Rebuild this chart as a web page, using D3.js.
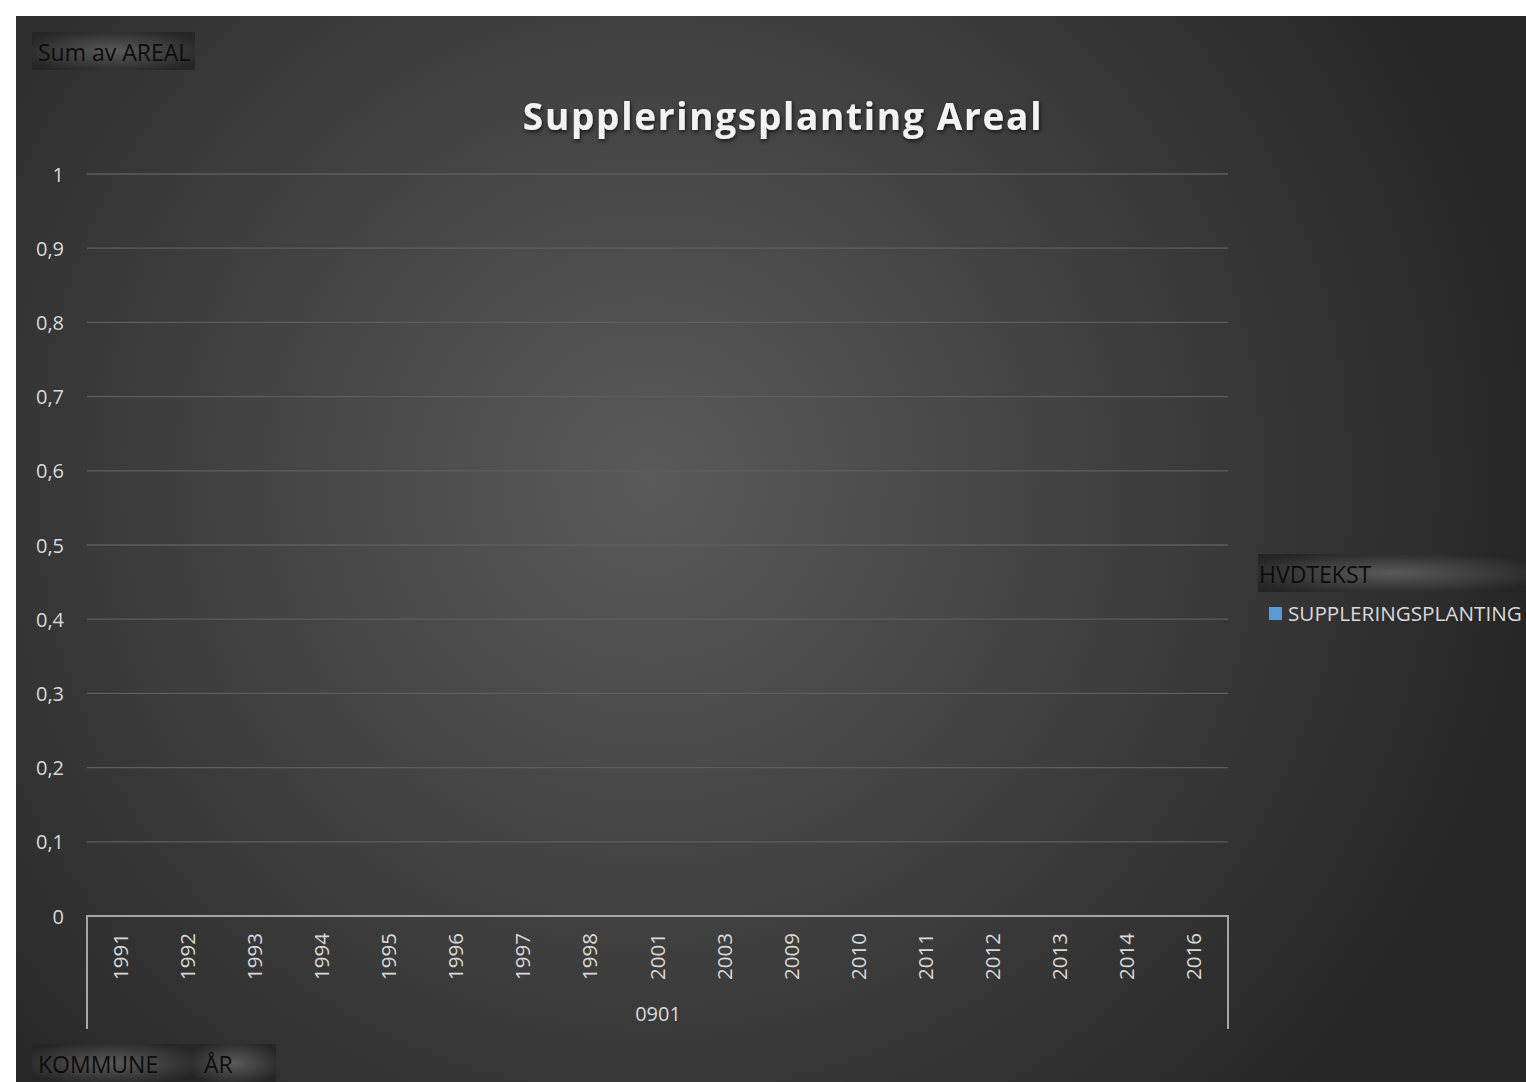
<!DOCTYPE html>
<html><head><meta charset="utf-8">
<script src="https://cdn.jsdelivr.net/npm/d3@7"></script>
<style>
html,body{margin:0;padding:0;background:#fff;}
svg{display:block;}
text{font-family:"Open Sans","Noto Sans",sans-serif;}
</style></head>
<body>
<script>
const categories = ["1991","1992","1993","1994","1995","1996","1997","1998","2001","2003","2009","2010","2011","2012","2013","2014","2016"];
const groupLabel = "0901";
const seriesName = "SUPPLERINGSPLANTING";
const seriesValues = [0,0,0,0,0,0,0,0,0,0,0,0,0,0,0,0,0];
const yTicks = [0,0.1,0.2,0.3,0.4,0.5,0.6,0.7,0.8,0.9,1];
const title = "Suppleringsplanting Areal";

const W = 1526, H = 1082;
const svg = d3.select("body").append("svg").attr("width", W).attr("height", H);
const defs = svg.append("defs");
const bg = defs.append("radialGradient").attr("id","bg").attr("gradientUnits","userSpaceOnUse")
  .attr("cx",650).attr("cy",480).attr("r",900);
bg.append("stop").attr("offset","0%").attr("stop-color","#5a5a5a");
bg.append("stop").attr("offset","100%").attr("stop-color","#262626");
const btn = defs.append("radialGradient").attr("id","btn").attr("cx","0.5").attr("cy","0.5").attr("r","0.6");
btn.append("stop").attr("offset","0%").attr("stop-color","#5a5a5a");
btn.append("stop").attr("offset","100%").attr("stop-color","#262626");
const sh = defs.append("filter").attr("id","sh").attr("x","-10%").attr("y","-30%").attr("width","120%").attr("height","160%");
sh.append("feDropShadow").attr("dx",1).attr("dy",2).attr("stdDeviation",2).attr("flood-color","#000").attr("flood-opacity",0.7);

svg.append("rect").attr("x",16).attr("y",16).attr("width",W-16).attr("height",H-16).attr("fill","url(#bg)");

const m = {left:87, right:1228, top:174, bottom:916};
const x = d3.scaleBand().domain(categories).range([m.left, m.right]).paddingInner(0.5).paddingOuter(0.25);
const xc = d3.scaleBand().domain(categories).range([m.left, m.right]);
const y = d3.scaleLinear().domain([0,1]).range([m.bottom, m.top]);
const fmt = v => d3.format(".1~f")(v).replace(".", ",");

// gridlines
svg.append("g").selectAll("line").data(yTicks.filter(d=>d>0)).join("line")
  .attr("x1",m.left).attr("x2",m.right).attr("y1",d=>y(d)).attr("y2",d=>y(d))
  .attr("stroke","#5e5e5e").attr("stroke-width",1.3);

// y labels
const yAxis = d3.axisLeft(y).tickValues(yTicks).tickFormat(fmt).tickSize(0).tickPadding(0);
const gy = svg.append("g").attr("transform","translate(64,0)").call(yAxis);
gy.select(".domain").remove();
gy.selectAll("text").attr("fill","#d9d9d9").attr("font-size",20).attr("dy","0.35em");

// bars (all zero)
svg.append("g").selectAll("rect").data(seriesValues).join("rect")
  .attr("x",(d,i)=>x(categories[i])).attr("width",x.bandwidth())
  .attr("y",d=>y(d)).attr("height",d=>y(0)-y(d)).attr("fill","#5b9bd5");

// x axis
const ax = svg.append("g").attr("stroke","#a6a6a6").attr("stroke-width",2).attr("fill","none");
ax.append("path").attr("d",`M${m.left},1029V${m.bottom}H${m.right}V1029`);

svg.append("g").selectAll("text").data(categories).join("text")
  .attr("transform",d=>`translate(${xc(d)+xc.bandwidth()/2+7},933) rotate(-90)`)
  .attr("text-anchor","end").attr("fill","#d9d9d9").attr("font-size",20.5).text(d=>d);

svg.append("text").attr("x",(m.left+m.right)/2+0.5).attr("y",1021).attr("text-anchor","middle")
  .attr("fill","#d9d9d9").attr("font-size",20).text(groupLabel);

// title
svg.append("text").attr("x",783).attr("y",130).attr("text-anchor","middle")
  .attr("fill","#f2f2f2").attr("font-size",37).attr("font-weight","bold").attr("letter-spacing",1.7)
  .attr("filter","url(#sh)").text(title);

// field buttons
function button(x0,y0,w,h,label,tx){
  svg.append("rect").attr("x",x0).attr("y",y0).attr("width",w).attr("height",h).attr("fill","url(#btn)");
  svg.append("text").attr("x",tx).attr("y",y0+h/2+2).attr("dy","0.36em").attr("fill","#0d0d0d")
    .attr("font-size",23).text(label);
}
button(32,32,163,38,"Sum av AREAL",38);
button(32,1044,160,38,"KOMMUNE",38);
button(192,1044,84,38,"ÅR",204);
button(1258,554,268,38,"HVDTEKST",1259);

// legend
svg.append("rect").attr("x",1269).attr("y",607).attr("width",13).attr("height",13).attr("fill","#5b9bd5");
svg.append("text").attr("x",1288).attr("y",614).attr("dy","0.36em").attr("fill","#d9d9d9")
  .attr("font-size",20.7).text(seriesName);
</script>
</body></html>
